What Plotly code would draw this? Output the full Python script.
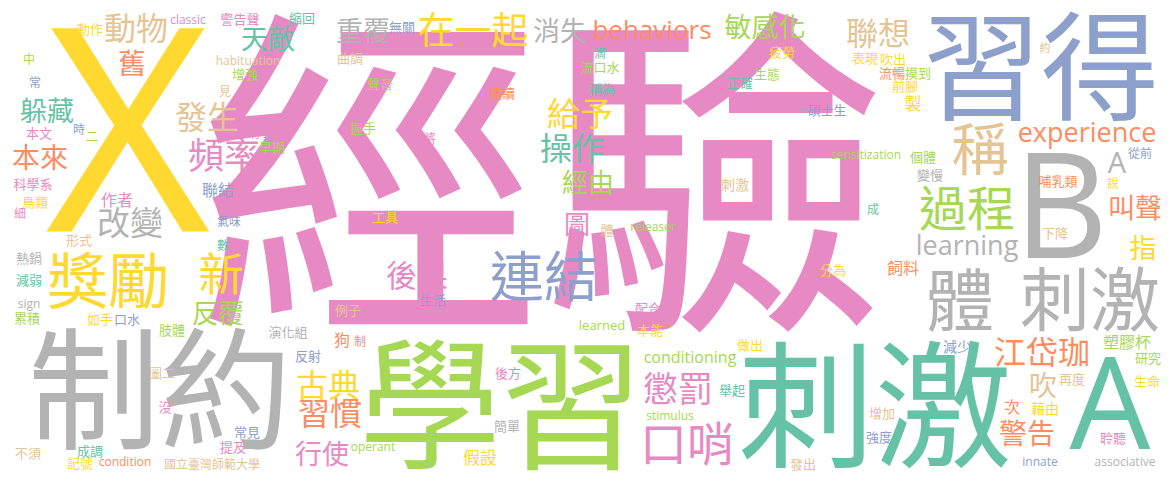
import plotly.graph_objects as go

# ---- data: words and their relative weights (font size in px at this canvas) ----
words = [
    "經驗", "X", "習得", "B", "制約", "學習", "刺激", "A", "體", "刺激",
    "獎勵", "新", "反覆", "改變", "作者", "聯結", "氣味", "數", "形式", "科學系",
    "鳥類", "細", "熱鍋", "減弱", "sign", "累積", "如手", "口水", "肢體", "演化組",
    "圖二", "沒", "常見", "提及", "不須", "成調", "記號", "condition", "國立臺灣師範大學", "狗",
    "制", "反射", "古典", "習慣", "行使", "operant", "後方", "簡單", "假設", "learned",
    "本能", "做出", "conditioning", "懲罰", "舉起", "stimulus", "口哨", "發出", "增加", "強度",
    "減少", "江岱珈", "塑膠杯", "研究", "再度", "生命", "吹", "次", "藉由", "警告",
    "聆聽", "innate", "associative", "動物", "classic", "警告聲", "縮回", "動作", "天敵", "中",
    "常", "舊", "habituation", "增強", "見", "躲藏", "發生", "本文", "時", "二",
    "停止", "早期", "本來", "頻率", "重覆", "無關", "在一起", "消失", "曲調", "聲音",
    "連續", "握手", "體將", "給予", "操作", "滴", "流口水", "稱為", "behaviors", "敏感化",
    "聯想", "疲勞", "表現", "吹出", "生態", "正確", "碩士生", "sensitization", "流暢", "摸到",
    "前腳", "製", "約", "稱", "experience", "個體", "從前", "A", "變慢", "哺乳類",
    "說", "過程", "叫聲", "下降", "learning", "指", "飼料", "成", "經由", "刺激",
    "圖", "體", "releaser", "分為", "配合", "工具", "後果", "生活", "例子", "連結",
]
weights = [
    345, 285, 118, 146, 132, 142, 137, 128, 68, 70,
    61, 45, 26, 33, 16, 16, 12, 12, 13, 13,
    13, 12, 13, 13, 12, 13, 13, 13, 13, 13,
    13, 13, 13, 13, 13, 13, 13, 12, 12, 16,
    12, 13, 32, 32, 27, 12, 13, 13, 17, 13,
    13, 13, 16, 35, 13, 12, 47, 13, 13, 13,
    14, 32, 16, 13, 13, 13, 28, 16, 14, 28,
    13, 12, 12, 32, 12, 13, 13, 13, 27, 12,
    12, 28, 12, 13, 12, 27, 32, 13, 12, 12,
    13, 13, 28, 36, 27, 13, 37, 27, 13, 13,
    13, 13, 13, 33, 32, 12, 13, 13, 26, 27,
    32, 13, 13, 13, 13, 13, 13, 12, 13, 13,
    13, 17, 11, 57, 27, 13, 12, 29, 13, 13,
    12, 48, 27, 13, 27, 27, 16, 12, 26, 14,
    26, 13, 12, 13, 13, 13, 31, 13, 13, 54,
]

# ---- layout of the cloud (placement produced by the word-cloud packer) ----
pos_x = [
    543, 128, 1041, 1061, 160, 501, 875, 1110, 960, 1090,
    108, 221, 218, 130, 117, 218, 229, 223, 79, 33,
    35, 20, 29, 29, 29, 27, 100, 127, 172, 288,
    162, 165, 247, 233, 28, 90, 80, 125, 212, 342,
    360, 308, 328, 330, 322, 373, 508, 507, 480, 602,
    650, 750, 690, 678, 732, 670, 687, 803, 882, 879,
    957, 1042, 1127, 1148, 1072, 1147, 1043, 1012, 1045, 1027,
    1113, 1040, 1125, 136, 188, 240, 302, 90, 268, 29,
    35, 132, 248, 245, 225, 47, 207, 39, 79, 92,
    263, 272, 40, 224, 363, 402, 473, 560, 350, 380,
    502, 363, 423, 580, 572, 600, 600, 602, 652, 765,
    878, 782, 865, 893, 767, 740, 827, 866, 892, 918,
    905, 913, 1045, 980, 1087, 923, 1140, 1117, 930, 1058,
    1113, 967, 1135, 1055, 967, 1143, 903, 873, 588, 735,
    577, 607, 653, 833, 648, 385, 417, 433, 348, 544,
]
pos_y = [
    170, 129, 65, 205, 388, 403, 404, 403, 299, 299,
    280, 273, 313, 222, 200, 190, 221, 245, 240, 184,
    202, 213, 258, 280, 305, 318, 319, 319, 330, 332,
    373, 407, 432, 447, 453, 451, 463, 463, 464, 340,
    341, 356, 385, 413, 453, 448, 373, 426, 457, 327,
    330, 345, 359, 388, 390, 417, 443, 464, 413, 437,
    347, 352, 342, 358, 379, 381, 385, 407, 409, 433,
    438, 463, 463, 28, 21, 19, 18, 29, 38, 59,
    82, 63, 62, 74, 91, 110, 117, 133, 129, 136,
    132, 147, 157, 155, 30, 27, 30, 30, 58, 84,
    93, 128, 138, 113, 148, 53, 67, 89, 32, 26,
    33, 52, 58, 59, 74, 83, 110, 156, 73, 73,
    86, 103, 48, 148, 135, 157, 153, 163, 175, 181,
    183, 207, 207, 233, 248, 247, 268, 209, 182, 185,
    224, 230, 228, 270, 308, 217, 275, 300, 310, 276,
]
color_keys = [
    "P", "Y", "B", "R", "R", "G", "T", "T", "R", "R",
    "Y", "Y", "G", "R", "P", "B", "B", "T", "N", "P",
    "Y", "P", "R", "T", "R", "G", "Y", "B", "G", "R",
    "N", "P", "B", "P", "N", "T", "Y", "O", "N", "O",
    "O", "B", "Y", "O", "P", "G", "P", "R", "Y", "G",
    "Y", "Y", "G", "P", "T", "G", "P", "N", "N", "B",
    "B", "O", "G", "G", "N", "Y", "N", "O", "Y", "O",
    "P", "B", "R", "N", "P", "P", "T", "Y", "T", "G",
    "B", "O", "N", "G", "N", "T", "N", "P", "B", "G",
    "P", "G", "O", "P", "R", "B", "Y", "R", "N", "G",
    "O", "G", "P", "Y", "T", "T", "G", "T", "O", "G",
    "N", "Y", "Y", "Y", "G", "T", "B", "G", "O", "G",
    "Y", "Y", "N", "N", "O", "G", "B", "R", "R", "O",
    "Y", "G", "O", "N", "R", "Y", "O", "T", "G", "N",
    "P", "N", "G", "Y", "P", "Y", "P", "B", "N", "B",
]

palette = {
    "P": "#e78ac3", "G": "#a6d854", "Y": "#ffd92f", "T": "#66c2a5",
    "O": "#fc8d62", "B": "#8da0cb", "N": "#e5c494", "R": "#b3b3b3",
}
colors = [palette[k] for k in color_keys]


# Plotly anchors "middle center" text on the em box; shift each word so that
# the visible glyphs are centred on its placement point.
def glyph_shift(word):
    if word.isascii():
        return 0.11 if word.isupper() else 0.0
    return 0.14


anchor_y = [y + glyph_shift(w) * s for w, y, s in zip(words, pos_y, weights)]

fig = go.Figure(
    go.Scatter(
        x=pos_x,
        y=anchor_y,
        text=words,
        mode="text",
        textposition="middle center",
        textfont=dict(
            family="Open Sans, Noto Sans CJK TC, sans-serif",
            size=weights,
            color=colors,
        ),
        hoverinfo="skip",
    )
)

fig.update_layout(
    width=1175,
    height=482,
    margin=dict(l=0, r=0, t=0, b=0),
    paper_bgcolor="white",
    plot_bgcolor="white",
    showlegend=False,
    xaxis=dict(range=[0, 1175], visible=False, fixedrange=True),
    yaxis=dict(range=[482, 0], visible=False, fixedrange=True),
)

fig.write_html(
    "out.html",
    config={"displayModeBar": False},
    post_script="document.body.style.margin='0px';",
)
